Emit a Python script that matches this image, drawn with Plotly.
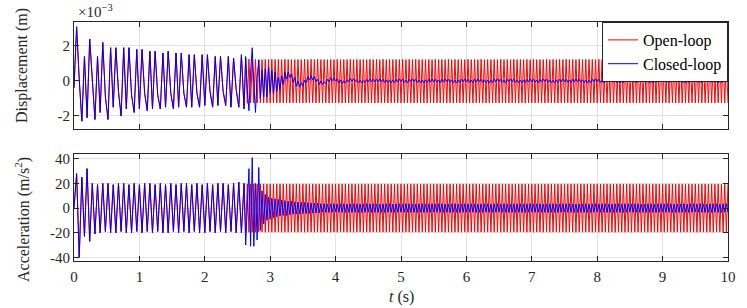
import numpy as np
import plotly.graph_objects as go

# spacing between successive extrema
DT_PRE = 0.04    # s, before control switches on (t <= 2.6 s)
DT_POST = 0.025  # s, after 2.6 s
T_SWITCH = 2.6

# ---------------- displacement (units of 1e-3 m) ----------------
shared_disp = [
    -0.4, 3.1, 0.1, -2.3, 1.4, -2.1, 2.4, -0.2, -2.2, 1.4,
    -1.8, 2.2, -0.9, -2.2, 1.9, -1.5, 1.9, -0.6, -2.0, 1.9,
    -1.6, 1.9, -0.8, -1.8, 1.8, -1.6, 1.8, -0.7, -1.7, 1.7,
    -1.6, 1.7, -0.8, -1.6, 1.6, -1.5, 1.7, -0.7, -1.6, 1.6,
    -1.5, 1.6, -0.7, -1.5, 1.5, -1.5, 1.5, -0.7, -1.5, 1.5,
    -1.4, 1.5, -0.6, -1.5, 1.4, -1.4, 1.4, -0.6, -1.4, 1.4,
    -1.5, 1.3, -0.5, -1.5, 1.5, -1.6,
]
red_disp_post = [
    1.3, -1.28, 1.25, -1.26, 1.22, -1.25, 1.23, -1.26, 1.22, -1.25, 1.22, -1.26, 1.23, -1.25, 1.22, -1.26, 1.24, -1.25, 1.22, -1.26,
    1.23, -1.25, 1.22, -1.26, 1.24, -1.25, 1.22, -1.26, 1.23, -1.25, 1.22, -1.26, 1.23, -1.25, 1.22, -1.26, 1.24, -1.25, 1.22, -1.26,
    1.23, -1.25, 1.22, -1.26, 1.24, -1.25, 1.22, -1.26, 1.23, -1.25, 1.22, -1.26, 1.23, -1.25, 1.22, -1.26, 1.24, -1.25, 1.22, -1.26,
    1.23, -1.25, 1.22, -1.26, 1.24, -1.25, 1.22, -1.26, 1.23, -1.25, 1.22, -1.26, 1.23, -1.25, 1.22, -1.26, 1.24, -1.25, 1.22, -1.26,
    1.23, -1.25, 1.22, -1.26, 1.24, -1.25, 1.22, -1.26, 1.23, -1.25, 1.22, -1.26, 1.23, -1.25, 1.22, -1.26, 1.24, -1.25, 1.22, -1.26,
    1.23, -1.25, 1.22, -1.26, 1.24, -1.25, 1.22, -1.26, 1.23, -1.25, 1.22, -1.26, 1.23, -1.25, 1.22, -1.26, 1.24, -1.25, 1.22, -1.26,
    1.23, -1.25, 1.22, -1.26, 1.24, -1.25, 1.22, -1.26, 1.23, -1.25, 1.22, -1.26, 1.23, -1.25, 1.22, -1.26, 1.24, -1.25, 1.22, -1.26,
    1.23, -1.25, 1.22, -1.26, 1.24, -1.25, 1.22, -1.26, 1.23, -1.25, 1.22, -1.26, 1.23, -1.25, 1.22, -1.26, 1.24, -1.25, 1.22, -1.26,
    1.23, -1.25, 1.22, -1.26, 1.24, -1.25, 1.22, -1.26, 1.23, -1.25, 1.22, -1.26, 1.23, -1.25, 1.22, -1.26, 1.24, -1.25, 1.22, -1.26,
    1.23, -1.25, 1.22, -1.26, 1.24, -1.25, 1.22, -1.26, 1.23, -1.25, 1.22, -1.26, 1.23, -1.25, 1.22, -1.26, 1.24, -1.25, 1.22, -1.26,
    1.23, -1.25, 1.22, -1.26, 1.24, -1.25, 1.22, -1.26, 1.23, -1.25, 1.22, -1.26, 1.23, -1.25, 1.22, -1.26, 1.24, -1.25, 1.22, -1.26,
    1.23, -1.25, 1.22, -1.26, 1.24, -1.25, 1.22, -1.26, 1.23, -1.25, 1.22, -1.26, 1.23, -1.25, 1.22, -1.26, 1.24, -1.25, 1.22, -1.26,
    1.23, -1.25, 1.22, -1.26, 1.24, -1.25, 1.22, -1.26, 1.23, -1.25, 1.22, -1.26, 1.23, -1.25, 1.22, -1.26, 1.24, -1.25, 1.22, -1.26,
    1.23, -1.25, 1.22, -1.26, 1.24, -1.25, 1.22, -1.26, 1.23, -1.25, 1.22, -1.26, 1.23, -1.25, 1.22, -1.26, 1.24, -1.25, 1.22, -1.26,
    1.23, -1.25, 1.22, -1.26, 1.24, -1.25, 1.22, -1.26, 1.23, -1.25, 1.22, -1.26, 1.23, -1.25, 1.22, -1.26,
]
blue_disp_post = [
    1.4, -0.5, -1.7, 0.5, 1.9, -0.2, -1.8, 0.2, 1.2,
    -1.0, 0.6, -0.9, 0.7, -0.9, 0.8, -0.7, 0.6, -0.7, 0.5,
    -0.6, 0.2, -0.5, 0.3, -0.2, 0.5, 0.1, 0.5, 0.2, 0.4,
    -0.1, 0.2, -0.3, 0.0, -0.35, -0.1, -0.3, 0.05, -0.1, 0.25,
    0.05, 0.3, 0.05, 0.25, -0.05, 0.1, -0.2, 0.0, -0.2, -0.05,
    -0.15, 0.1, -0.05, 0.2, 0.02, 0.18, 0.0, 0.1, -0.12, 0.05,
    -0.15, 0.0, -0.12, 0.08, -0.06, 0.14, -0.02, 0.12, -0.04, 0.08,
    -0.1, 0.04, -0.12, 0.02, -0.1, 0.08, -0.06, 0.12, -0.04, 0.1, -0.06,
    0.1, -0.06, 0.12, -0.04, 0.1, -0.08, 0.06, -0.1, 0.04, -0.12, 0.06, -0.1, 0.1, -0.06, 0.12, -0.05, 0.1, -0.08, 0.05, -0.11,
    0.1, -0.06, 0.12, -0.04, 0.1, -0.08, 0.06, -0.1, 0.04, -0.12, 0.06, -0.1, 0.1, -0.06, 0.12, -0.05, 0.1, -0.08, 0.05, -0.11,
    0.1, -0.06, 0.12, -0.04, 0.1, -0.08, 0.06, -0.1, 0.04, -0.12, 0.06, -0.1, 0.1, -0.06, 0.12, -0.05, 0.1, -0.08, 0.05, -0.11,
    0.1, -0.06, 0.12, -0.04, 0.1, -0.08, 0.06, -0.1, 0.04, -0.12, 0.06, -0.1, 0.1, -0.06, 0.12, -0.05, 0.1, -0.08, 0.05, -0.11,
    0.1, -0.06, 0.12, -0.04, 0.1, -0.08, 0.06, -0.1, 0.04, -0.12, 0.06, -0.1, 0.1, -0.06, 0.12, -0.05, 0.1, -0.08, 0.05, -0.11,
    0.1, -0.06, 0.12, -0.04, 0.1, -0.08, 0.06, -0.1, 0.04, -0.12, 0.06, -0.1, 0.1, -0.06, 0.12, -0.05, 0.1, -0.08, 0.05, -0.11,
    0.1, -0.06, 0.12, -0.04, 0.1, -0.08, 0.06, -0.1, 0.04, -0.12, 0.06, -0.1, 0.1, -0.06, 0.12, -0.05, 0.1, -0.08, 0.05, -0.11,
    0.1, -0.06, 0.12, -0.04, 0.1, -0.08, 0.06, -0.1, 0.04, -0.12, 0.06, -0.1, 0.1, -0.06, 0.12, -0.05, 0.1, -0.08, 0.05, -0.11,
    0.1, -0.06, 0.12, -0.04, 0.1, -0.08, 0.06, -0.1, 0.04, -0.12, 0.06, -0.1, 0.1, -0.06, 0.12, -0.05, 0.1, -0.08, 0.05, -0.11,
    0.1, -0.06, 0.12, -0.04, 0.1, -0.08, 0.06, -0.1, 0.04, -0.12, 0.06, -0.1, 0.1, -0.06, 0.12, -0.05, 0.1, -0.08, 0.05, -0.11,
    0.1, -0.06, 0.12, -0.04, 0.1, -0.08, 0.06, -0.1, 0.04, -0.12, 0.06, -0.1, 0.1, -0.06, 0.12, -0.05,
]

# ---------------- acceleration (m/s^2) ----------------
shared_acc = [
    0, 28, -40, 25, -23, 32, -27, 20, -21, 19,
    -20, 20, -19, 20, -20, 19, -20, 20, -19, 20,
    -20, 19, -20, 20, -19, 19, -20, 20, -19, 20,
    -20, 19, -19, 20, -20, 19, -20, 20, -19, 19,
    -20, 20, -19, 20, -20, 19, -19, 20, -20, 19,
    -20, 20, -19, 19, -20, 20, -19, 20, -20, 19,
    -19, 20, -20, 21, -20, 20,
]
red_acc_post = [
    -19.5, 19.6, -19.6, 19.5, -19.5, 19.6, -19.6, 19.5, -19.5, 19.6, -19.5, 19.6, -19.6, 19.5, -19.5, 19.6, -19.6, 19.5, -19.5, 19.6,
    -19.5, 19.6, -19.6, 19.5, -19.5, 19.6, -19.6, 19.5, -19.5, 19.6, -19.5, 19.6, -19.6, 19.5, -19.5, 19.6, -19.6, 19.5, -19.5, 19.6,
    -19.5, 19.6, -19.6, 19.5, -19.5, 19.6, -19.6, 19.5, -19.5, 19.6, -19.5, 19.6, -19.6, 19.5, -19.5, 19.6, -19.6, 19.5, -19.5, 19.6,
    -19.5, 19.6, -19.6, 19.5, -19.5, 19.6, -19.6, 19.5, -19.5, 19.6, -19.5, 19.6, -19.6, 19.5, -19.5, 19.6, -19.6, 19.5, -19.5, 19.6,
    -19.5, 19.6, -19.6, 19.5, -19.5, 19.6, -19.6, 19.5, -19.5, 19.6, -19.5, 19.6, -19.6, 19.5, -19.5, 19.6, -19.6, 19.5, -19.5, 19.6,
    -19.5, 19.6, -19.6, 19.5, -19.5, 19.6, -19.6, 19.5, -19.5, 19.6, -19.5, 19.6, -19.6, 19.5, -19.5, 19.6, -19.6, 19.5, -19.5, 19.6,
    -19.5, 19.6, -19.6, 19.5, -19.5, 19.6, -19.6, 19.5, -19.5, 19.6, -19.5, 19.6, -19.6, 19.5, -19.5, 19.6, -19.6, 19.5, -19.5, 19.6,
    -19.5, 19.6, -19.6, 19.5, -19.5, 19.6, -19.6, 19.5, -19.5, 19.6, -19.5, 19.6, -19.6, 19.5, -19.5, 19.6, -19.6, 19.5, -19.5, 19.6,
    -19.5, 19.6, -19.6, 19.5, -19.5, 19.6, -19.6, 19.5, -19.5, 19.6, -19.5, 19.6, -19.6, 19.5, -19.5, 19.6, -19.6, 19.5, -19.5, 19.6,
    -19.5, 19.6, -19.6, 19.5, -19.5, 19.6, -19.6, 19.5, -19.5, 19.6, -19.5, 19.6, -19.6, 19.5, -19.5, 19.6, -19.6, 19.5, -19.5, 19.6,
    -19.5, 19.6, -19.6, 19.5, -19.5, 19.6, -19.6, 19.5, -19.5, 19.6, -19.5, 19.6, -19.6, 19.5, -19.5, 19.6, -19.6, 19.5, -19.5, 19.6,
    -19.5, 19.6, -19.6, 19.5, -19.5, 19.6, -19.6, 19.5, -19.5, 19.6, -19.5, 19.6, -19.6, 19.5, -19.5, 19.6, -19.6, 19.5, -19.5, 19.6,
    -19.5, 19.6, -19.6, 19.5, -19.5, 19.6, -19.6, 19.5, -19.5, 19.6, -19.5, 19.6, -19.6, 19.5, -19.5, 19.6, -19.6, 19.5, -19.5, 19.6,
    -19.5, 19.6, -19.6, 19.5, -19.5, 19.6, -19.6, 19.5, -19.5, 19.6, -19.5, 19.6, -19.6, 19.5, -19.5, 19.6, -19.6, 19.5, -19.5, 19.6,
    -19.5, 19.6, -19.6, 19.5, -19.5, 19.6, -19.6, 19.5, -19.5, 19.6, -19.5, 19.6, -19.6, 19.5, -19.5, 19.6,
]
blue_acc_post = [
    -30, 10, 32, -31, 41, -31, 20, -26, 33, -18, 14, -13, 11, -10, 9, -9,
    8, -8, 7.5, -7, 7, -6.5, 6.5, -6, 6, -6,
    5.5, -5.5, 5.5, -5, 5, -5, 4.8, -4.8, 4.6, -4.6, 4.5, -4.5, 4.4, -4.3, 4.2, -4.2, 4.1, -4, 4, -4,
    3.5, -3.4, 3.6, -3.5, 3.3, -3.6, 3.5, -3.4, 3.6, -3.3, 3.4, -3.5, 3.6, -3.4, 3.5, -3.6, 3.3, -3.5, 3.4, -3.6,
    3.5, -3.4, 3.6, -3.5, 3.3, -3.6, 3.5, -3.4, 3.6, -3.3, 3.4, -3.5, 3.6, -3.4, 3.5, -3.6, 3.3, -3.5, 3.4, -3.6,
    3.5, -3.4, 3.6, -3.5, 3.3, -3.6, 3.5, -3.4, 3.6, -3.3, 3.4, -3.5, 3.6, -3.4, 3.5, -3.6, 3.3, -3.5, 3.4, -3.6,
    3.5, -3.4, 3.6, -3.5, 3.3, -3.6, 3.5, -3.4, 3.6, -3.3, 3.4, -3.5, 3.6, -3.4, 3.5, -3.6, 3.3, -3.5, 3.4, -3.6,
    3.5, -3.4, 3.6, -3.5, 3.3, -3.6, 3.5, -3.4, 3.6, -3.3, 3.4, -3.5, 3.6, -3.4, 3.5, -3.6, 3.3, -3.5, 3.4, -3.6,
    3.5, -3.4, 3.6, -3.5, 3.3, -3.6, 3.5, -3.4, 3.6, -3.3, 3.4, -3.5, 3.6, -3.4, 3.5, -3.6, 3.3, -3.5, 3.4, -3.6,
    3.5, -3.4, 3.6, -3.5, 3.3, -3.6, 3.5, -3.4, 3.6, -3.3, 3.4, -3.5, 3.6, -3.4, 3.5, -3.6, 3.3, -3.5, 3.4, -3.6,
    3.5, -3.4, 3.6, -3.5, 3.3, -3.6, 3.5, -3.4, 3.6, -3.3, 3.4, -3.5, 3.6, -3.4, 3.5, -3.6, 3.3, -3.5, 3.4, -3.6,
    3.5, -3.4, 3.6, -3.5, 3.3, -3.6, 3.5, -3.4, 3.6, -3.3, 3.4, -3.5, 3.6, -3.4, 3.5, -3.6, 3.3, -3.5, 3.4, -3.6,
    3.5, -3.4, 3.6, -3.5, 3.3, -3.6, 3.5, -3.4, 3.6, -3.3, 3.4, -3.5, 3.6, -3.4, 3.5, -3.6, 3.3, -3.5, 3.4, -3.6,
    3.5, -3.4, 3.6, -3.5, 3.3, -3.6, 3.5, -3.4, 3.6, -3.3, 3.4, -3.5, 3.6, -3.4, 3.5, -3.6, 3.3, -3.5, 3.4, -3.6,
    3.5, -3.4, 3.6, -3.5, 3.3, -3.6, 3.5, -3.4, 3.6, -3.3, 3.4, -3.5, 3.6, -3.4, 3.5, -3.6, 3.3, -3.5, 3.4, -3.6,
    3.5, -3.4, 3.6, -3.5, 3.3, -3.6, 3.5, -3.4, 3.6, -3.3,
]

x_ticks = list(range(0, 11))
disp_ticks = [-2, 0, 2]
acc_ticks = [-40, -20, 0, 20, 40]
series_names = ["Open-loop", "Closed-loop"]
RED = "#ff0000"
BLUE = "#0000ff"


def build(pre, post, scale=1.0):
    t_pre = np.arange(len(pre)) * DT_PRE
    t_post = T_SWITCH + (np.arange(len(post)) + 1) * DT_POST
    t = np.concatenate([t_pre, t_post])
    y = np.array(pre + post, dtype=float) * scale
    return t, y


t_rd, y_rd = build(shared_disp, red_disp_post, 1e-3)
t_bd, y_bd = build(shared_disp, blue_disp_post, 1e-3)
t_ra, y_ra = build(shared_acc, red_acc_post)
t_ba, y_ba = build(shared_acc, blue_acc_post)

FONT = "Liberation Serif"
INK = "#262626"

fig = go.Figure()
fig.add_trace(go.Scatter(x=t_rd, y=y_rd, mode="lines", name=series_names[0],
                         line=dict(color=RED, width=1), xaxis="x", yaxis="y"))
fig.add_trace(go.Scatter(x=t_bd, y=y_bd, mode="lines", name=series_names[1],
                         line=dict(color=BLUE, width=1), xaxis="x", yaxis="y"))
fig.add_trace(go.Scatter(x=t_ra, y=y_ra, mode="lines", showlegend=False,
                         line=dict(color=RED, width=1), xaxis="x2", yaxis="y2"))
fig.add_trace(go.Scatter(x=t_ba, y=y_ba, mode="lines", showlegend=False,
                         line=dict(color=BLUE, width=1), xaxis="x2", yaxis="y2"))

common = dict(showline=True, linecolor=INK, linewidth=1, mirror="ticks",
              ticks="inside", ticklen=5, tickcolor=INK, tickwidth=1,
              showgrid=True, gridcolor="#e2e2e2", gridwidth=1, zeroline=False,
              tickfont=dict(family=FONT, size=15, color=INK))

fig.update_layout(
    width=747, height=308,
    margin=dict(l=74, r=19, t=22, b=47),
    paper_bgcolor="white", plot_bgcolor="white",
    font=dict(family=FONT, size=15, color=INK),
    xaxis=dict(domain=[0, 1], range=[0, 10], anchor="y", tickvals=x_ticks,
               showticklabels=False, **common),
    xaxis2=dict(domain=[0, 1], range=[0, 10], anchor="y2", tickvals=x_ticks,
                ticktext=[str(v) for v in x_ticks], ticklabelstandoff=2, **common),
    yaxis=dict(domain=[0.552, 1], range=[-2.75e-3, 3.37e-3], anchor="x",
               tickvals=[v * 1e-3 for v in disp_ticks],
               ticktext=[str(v) for v in disp_ticks], **common),
    yaxis2=dict(domain=[0, 0.448], range=[-43, 44], anchor="x2",
                tickvals=acc_ticks, ticktext=[str(v) for v in acc_ticks], **common),
    legend=dict(x=1, xanchor="right", y=1, yanchor="top",
                bgcolor="white", bordercolor=INK, borderwidth=1,
                font=dict(family=FONT, size=16, color="black"),
                tracegroupgap=0, itemwidth=30),
    showlegend=True,
)

fig.add_annotation(text="Displacement (m)", xref="paper", yref="paper",
                   x=-0.0795, y=0.816, textangle=-90, showarrow=False,
                   font=dict(family=FONT, size=16, color=INK),
                   xanchor="center", yanchor="middle")
fig.add_annotation(text="Acceleration (m/s<sup>2</sup>)", xref="paper", yref="paper",
                   x=-0.0795, y=0.1715, textangle=-90, showarrow=False,
                   font=dict(family=FONT, size=16, color=INK),
                   xanchor="center", yanchor="middle")
fig.add_annotation(text="×10<sup>−3</sup>", xref="paper", yref="paper",
                   x=0.003, y=1.046, showarrow=False, xanchor="left", yanchor="middle",
                   font=dict(family=FONT, size=15, color=INK))
fig.add_annotation(text="<i>t</i> (s)", xref="paper", yref="paper",
                   x=0.5, y=-0.15, showarrow=False, xanchor="center", yanchor="middle",
                   font=dict(family=FONT, size=16, color=INK))

# the page's default 8px body margin would shift the figure; remove it
fig.write_html("out.html", config={"displayModeBar": False},
               post_script="document.body.style.margin='0px';")
